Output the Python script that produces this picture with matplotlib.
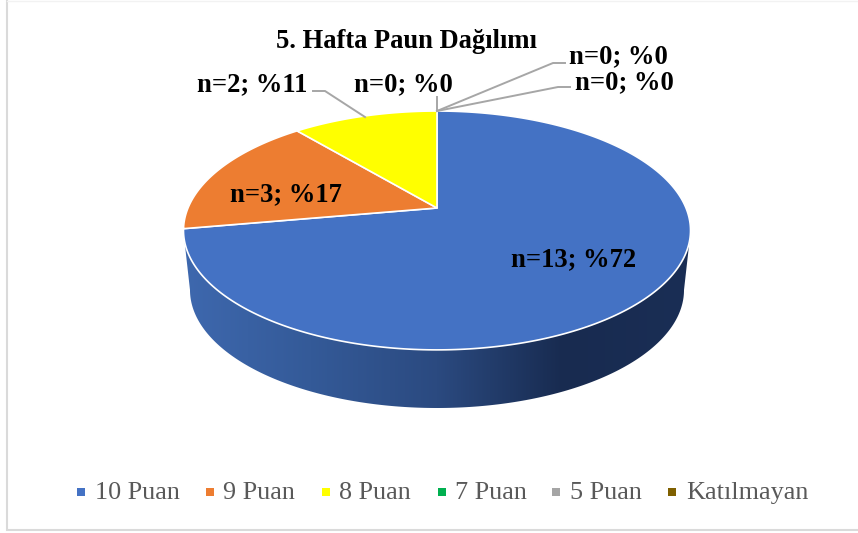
"""5. Hafta Paun Dagilimi: 3D style pie chart."""
import numpy as np
import matplotlib
matplotlib.use("Agg")
import matplotlib.pyplot as plt
from matplotlib.colors import LinearSegmentedColormap
from matplotlib.patches import Polygon, Rectangle

W, H = 858, 533

categories = ["10 Puan", "9 Puan", "8 Puan", "7 Puan", "5 Puan", "Katılmayan"]
counts = [13, 3, 2, 0, 0, 0]
percents = [72, 17, 11, 0, 0, 0]
title = "5. Hafta Paun Dağılımı"

colors = ["#4472C4", "#ED7D31", "#FFFF00", "#00B050", "#A5A5A5", "#7F6000"]

plt.rcParams["font.family"] = ["Liberation Serif", "DejaVu Serif"]

# perspective of the pie top: unit circle -> pixels
CX, CY = 437.0, 208.0
KX, KY, PERSP = 249.0, -76.1, 0.188


def project(theta):
    # theta is clockwise from 12 o'clock
    u, v = np.sin(theta), np.cos(theta)
    d = 1 + PERSP * v
    return CX + KX * u / d, (CY + KY * v) / d


def label_text(i):
    return f"n={counts[i]}; %{percents[i]}"


fig = plt.figure(figsize=(W / 100, H / 100), dpi=100)
ax = fig.add_axes([0, 0, 1, 1])
ax.set_xlim(0, W)
ax.set_ylim(H, 0)
ax.axis("off")

# chart frame
ax.add_patch(Rectangle((6.5, -5), W + 5, 535, fc="white", ec="#DADADA", lw=1.5))
ax.plot([7, W], [0.5, 0.5], color="#F2F2F2", lw=1)

# side wall, with left to right gradient
tt = np.linspace(0, 2 * np.pi, 721)
tx, ty = project(tt)
bot = np.linspace(0, np.pi, 241)
bx = 437 + 247 * np.cos(bot)
by = 290 + 118 * np.sin(bot)
wall = np.column_stack([
    np.r_[tx.max(), bx, tx.min()],
    np.r_[232, by, 232],
])
grad = np.linspace(0, 1, 256).reshape(1, -1)
cmap = LinearSegmentedColormap.from_list(
    "wall", [(0, "#3E68AE"), (0.25, "#345A98"), (0.5, "#2B4A80"), (0.75, "#182B50"), (1, "#1A2E55")])
im = ax.imshow(grad, extent=(184, 690, 420, 200), cmap=cmap, aspect="auto", zorder=2)
im.set_clip_path(Polygon(wall, transform=ax.transData))
ax.set_xlim(0, W)
ax.set_ylim(H, 0)

# top of the pie
start = 0.0
total = sum(counts)
for i, c in enumerate(counts):
    ang = 2 * np.pi * c / total
    if c > 0:
        th = np.linspace(start, start + ang, 300)
        x, y = project(th)
        ax.add_patch(Polygon(np.column_stack([np.r_[CX, x], np.r_[CY, y]]), closed=True,
                             fc=colors[i], ec="white", lw=1.2, joinstyle="round", zorder=3))
    start += ang

# data labels
LBL = dict(fontsize=19.2, fontweight="bold", color="black", ha="center", va="center", zorder=6)
label_pos = [(573.5, 260), (286, 195), (252, 85), (403, 85), (618.5, 57), (624.5, 83)]
for i, (lx, ly) in enumerate(label_pos):
    ax.text(lx, ly, label_text(i), **LBL)

# leader lines
leaders = [
    ([313, 325, 365], [91, 91, 117]),
    ([437, 437], [97, 111]),
    ([437, 553, 565], [111, 63, 63]),
    ([437, 558, 570], [111, 87, 87]),
]
for lx, ly in leaders:
    ax.plot(lx, ly, color="#A6A6A6", lw=1.4, zorder=5, solid_joinstyle="miter")

ax.text(406, 42, title, fontsize=19.1, fontweight="bold", color="black",
        ha="center", va="center", zorder=6)

# legend
leg_sw = [77, 206, 322, 438, 552, 668]
leg_tx = [95, 223, 339, 455, 570, 686]
for c, col, sx, tx_ in zip(categories, colors, leg_sw, leg_tx):
    ax.add_patch(Rectangle((sx, 488), 8, 8, fc=col, ec="none"))
    ax.text(tx_, 493, c, fontsize=18.8, color="#595959", ha="left", va="center")

fig.savefig("out.png", dpi=100)
